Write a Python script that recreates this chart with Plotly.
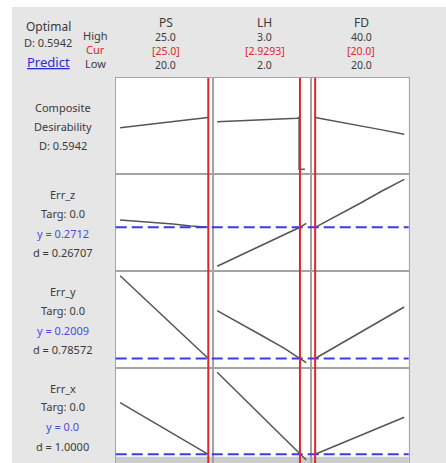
import plotly.graph_objects as go

# ---------------- data ----------------
factors = ["PS", "LH", "FD"]
factor_high = [25.0, 3.0, 40.0]
factor_low = [20.0, 2.0, 20.0]
factor_cur = [25.0, 2.9293, 20.0]
factor_high_lbl = ["25.0", "3.0", "40.0"]
factor_cur_lbl = ["[25.0]", "[2.9293]", "[20.0]"]
factor_low_lbl = ["20.0", "2.0", "20.0"]

ps_grid = [20, 21, 22, 23, 24, 25]
lh_grid = [2.0, 2.25, 2.5, 2.75, 2.9, 2.9293, 3.0]
fd_grid = [20, 25, 30, 35, 40]

# composite desirability
D_ps = [0.475, 0.497, 0.521, 0.545, 0.569, 0.5942]
D_lh_x = [2.0, 2.2, 2.5, 2.8, 2.9, 2.92, 2.92, 2.985]
D_lh = [0.544, 0.553, 0.566, 0.582, 0.585, 0.5942, 0.0, 0.0]
D_fd = [0.5942, 0.548, 0.500, 0.451, 0.400]

# responses
errz_ps = [0.2785, 0.2773, 0.2760, 0.2745, 0.2725, 0.2712]
errz_lh = [0.2322, 0.2427, 0.2532, 0.2632, 0.2692, 0.2712, 0.2752]
errz_fd = [0.2712, 0.2830, 0.2950, 0.3075, 0.3192]

erry_ps = [0.4493, 0.400, 0.350, 0.300, 0.250, 0.2009]
erry_lh = [0.3443, 0.306, 0.270, 0.232, 0.2054, 0.2009, 0.1883]
erry_fd = [0.2009, 0.240, 0.2785, 0.317, 0.3554]

errx_ps = [0.2064, 0.165, 0.124, 0.083, 0.041, 0.0]
errx_lh = [0.328, 0.240, 0.152, 0.064, 0.010, 0.0, -0.0228]
errx_fd = [0.0, 0.037, 0.074, 0.111, 0.148]

resp_names = ["Err_z", "Err_y", "Err_x"]
resp_targ = ["Targ: 0.0", "Targ: 0.0", "Targ: 0.0"]
resp_y = [0.2712, 0.2009, 0.0]
resp_y_lbl = ["y = 0.2712", "y = 0.2009", "y = 0.0"]
resp_d_lbl = ["d = 0.26707", "d = 0.78572", "d = 1.0000"]

D_value_lbl = "D: 0.5942"

# ---------------- layout helpers ----------------
W, H = 446, 463
col_px = [(115.7, 212.7), (212.7, 310.7), (310.7, 408.7)]
row_px = [(77.7, 173.5), (173.5, 270.5), (270.5, 367.5), (367.5, 463.0)]
x_ranges = [[19.75, 25.25], [1.95, 3.05], [19.0, 41.0]]
y_ranges = [[-0.05, 1.05], [0.2280, 0.3250], [0.1739, 0.4649], [-0.0348, 0.3472]]

def px_x(p):
    return p / W

def px_y(p):
    return 1 - p / H

rows_data = [
    [(ps_grid, D_ps), (D_lh_x, D_lh), (fd_grid, D_fd)],
    [(ps_grid, errz_ps), (lh_grid, errz_lh), (fd_grid, errz_fd)],
    [(ps_grid, erry_ps), (lh_grid, erry_lh), (fd_grid, erry_fd)],
    [(ps_grid, errx_ps), (lh_grid, errx_lh), (fd_grid, errx_fd)],
]

fig = go.Figure()
layout_axes = {}
line_col = "#a3a3a3"
for r in range(4):
    for c in range(3):
        k = r * 3 + c + 1
        xs, ys = rows_data[r][c]
        fig.add_trace(go.Scatter(
            x=xs, y=ys, mode="lines",
            line=dict(color="#555555", width=1.5),
            xaxis=f"x{k}", yaxis=f"y{k}", hoverinfo="skip", showlegend=False,
        ))
        xa = "xaxis" if k == 1 else f"xaxis{k}"
        ya = "yaxis" if k == 1 else f"yaxis{k}"
        layout_axes[xa] = dict(
            domain=[px_x(col_px[c][0]), px_x(col_px[c][1])], anchor=f"y{k}",
            range=x_ranges[c], showticklabels=False, ticks="", showgrid=False,
            zeroline=False, showline=True, mirror=True, linecolor=line_col,
            linewidth=1, fixedrange=True,
        )
        layout_axes[ya] = dict(
            domain=[px_y(row_px[r][1]), px_y(row_px[r][0])], anchor=f"x{k}",
            range=y_ranges[r], showticklabels=False, ticks="", showgrid=False,
            zeroline=False, showline=True, mirror=True, linecolor=line_col,
            linewidth=1, fixedrange=True,
        )

shapes = []
# white strips outside the gray panel (top and left)
shapes.append(dict(type="rect", xref="paper", yref="paper", x0=0, x1=1,
                   y0=px_y(7), y1=1, fillcolor="white", line=dict(width=0),
                   layer="below"))
shapes.append(dict(type="rect", xref="paper", yref="paper", x0=0, x1=px_x(12),
                   y0=0, y1=1, fillcolor="white", line=dict(width=0),
                   layer="below"))
# gray band at bottom of last row
for c in range(3):
    k = 9 + c + 1
    shapes.append(dict(type="rect", xref=f"x{k} domain", yref=f"y{k} domain",
                       x0=0, x1=1, y0=0, y1=(463 - 456.7) / (463 - 367.5),
                       fillcolor="#cccccc", line=dict(width=0), layer="below"))
# blue dashed lines (current response value)
for i in range(3):
    k = (i + 1) * 3 + 1
    shapes.append(dict(type="line", xref="paper", yref=f"y{k}",
                       x0=px_x(col_px[0][0]), x1=px_x(col_px[2][1]),
                       y0=resp_y[i], y1=resp_y[i],
                       line=dict(color="#3a3ae8", width=2, dash="11px,5px")))
# red vertical lines (current factor settings)
for c in range(3):
    shapes.append(dict(type="line", xref=f"x{c + 1}", yref="paper",
                       x0=factor_cur[c], x1=factor_cur[c], y0=0, y1=px_y(row_px[0][0]),
                       line=dict(color="#e3242b", width=2)))

txt = "#3a3a3a"
red = "#e3242b"
blue = "#4a4ae0"
ann = []

def add(text, x, y, color=txt, size=11):
    ann.append(dict(text=text, x=px_x(x), y=px_y(y), xref="paper", yref="paper",
                    showarrow=False, xanchor="center", yanchor="middle",
                    borderpad=0, font=dict(color=color, size=size)))

add("Optimal", 48, 26, size=12)
add(D_value_lbl, 48, 43, size=11)
add("<u>Predict</u>", 48, 62, color="#2b2bd9", size=13)
add("High", 95, 35.5, size=11)
add("Cur", 95, 50, color=red, size=11)
add("Low", 95, 63.5, size=11)

hx = [165.5, 264.5, 361.0]
for c in range(3):
    add(factors[c], hx[c], 22.5, size=12)
    add(factor_high_lbl[c], hx[c], 37.5, size=10.5)
    add(factor_cur_lbl[c], hx[c], 50.5, color=red, size=10.5)
    add(factor_low_lbl[c], hx[c], 64.5, size=10.5)

add("Composite", 63, 107.5)
add("Desirability", 63, 126.5)
add(D_value_lbl, 63, 145.5)

row_text_y = [(195, 213.7, 233.3, 252), (291.7, 310.7, 330, 349.3), (388.3, 406.7, 426.7, 446)]
for i in range(3):
    y0, y1, y2, y3 = row_text_y[i]
    add(resp_names[i], 63, y0)
    add(resp_targ[i], 63, y1)
    add(resp_y_lbl[i], 63, y2, color=blue)
    add(resp_d_lbl[i], 63, y3)

fig.update_layout(
    width=W, height=H, margin=dict(l=0, r=0, t=0, b=0),
    paper_bgcolor="#e6e6e6", plot_bgcolor="white",
    font=dict(family="Noto Sans", size=11, color=txt),
    shapes=shapes, annotations=ann, showlegend=False,
    **layout_axes,
)

fig.write_html("out.html", config={"displayModeBar": False},
               post_script="document.body.style.margin='0';document.body.style.padding='0';")
